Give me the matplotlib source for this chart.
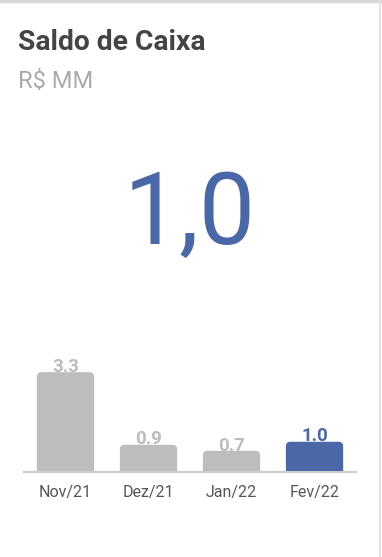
import matplotlib.pyplot as plt
from matplotlib.patches import FancyBboxPatch
from matplotlib.lines import Line2D

plt.rcParams['font.family'] = ['Roboto', 'DejaVu Sans']

# data
months = ["Nov/21", "Dez/21", "Jan/22", "Fev/22"]
saldo = [3.3, 0.9, 0.7, 1.0]
labels = ["3.3", "0.9", "0.7", "1.0"]
current = "1,0"

GRAY = "#bdbdbd"
BLUE = "#4a67a8"
colors = [GRAY, GRAY, GRAY, BLUE]

fig = plt.figure(figsize=(3.82, 5.57), dpi=100)
fig.patch.set_facecolor("white")

# card border (top and right)
fig.add_artist(Line2D([0, 1], [0.999, 0.999], color="#d6d6d6", lw=2.5))
fig.add_artist(Line2D([0.996, 0.996], [0, 1], color="#e4e4e4", lw=1.5))

fig.text(18 / 382, 1 - 50 / 557, "Saldo de Caixa", fontsize=20.3, fontweight="bold",
         color="#444444", va="baseline", ha="left")
fig.text(18 / 382, 1 - 88 / 557, "R$ MM", fontsize=17, color="#aaaaaa",
         va="baseline", ha="left")
fig.text(190 / 382, 1 - 244 / 557, current, fontsize=72, color=BLUE,
         va="baseline", ha="center")

ax = fig.add_axes([24 / 382, 85 / 557, 332 / 382, 121 / 557])
ax.set_xlim(-0.5, 3.5)
ax.set_ylim(0, 4)

w = 0.69
r = 0.055
aspect = (4 / 121) / (4 / 332)  # data units per pixel, y over x
for i, (v, c) in enumerate(zip(saldo, colors)):
    p = FancyBboxPatch((i - w / 2, -0.3), w, v + 0.3,
                       boxstyle=f"round,pad=0,rounding_size={r}",
                       mutation_aspect=aspect,
                       fc=c, ec="none", zorder=2)
    ax.add_patch(p)
    ax.text(i, v + 0.01, labels[i], ha="center", va="baseline", fontsize=13.5,
            fontweight="bold", color=c, zorder=1)

ax.set_xticks(range(len(months)))
ax.set_xticklabels(months, fontsize=11.5, color="#555555")
ax.tick_params(axis="x", length=0, pad=9)
ax.set_yticks([])
for s in ["top", "right", "left"]:
    ax.spines[s].set_visible(False)
ax.spines["bottom"].set_color("#cccccc")
ax.spines["bottom"].set_linewidth(1.5)
ax.spines["bottom"].set_zorder(3)
ax.set_facecolor("none")

fig.savefig("out.png", dpi=100)
